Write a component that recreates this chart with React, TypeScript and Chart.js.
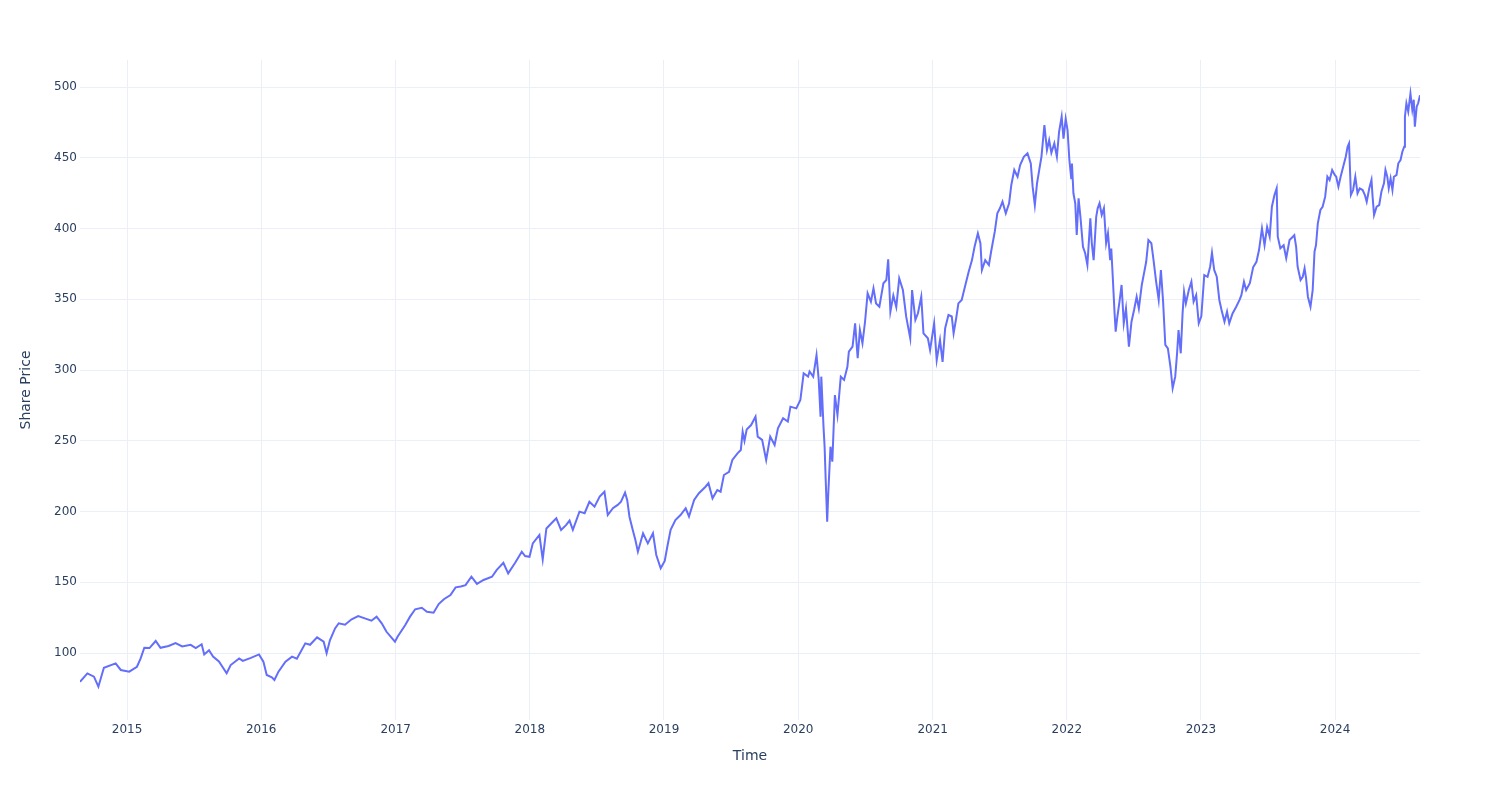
import React, { useEffect, useRef } from "react";
import { Chart, registerables } from "chart.js";

Chart.register(...registerables);

const dates: string[] = [
  "2014-08-26","2014-09-15","2014-10-03","2014-10-15","2014-10-30","2014-12-01","2014-12-15",
  "2015-01-07","2015-01-28","2015-02-07","2015-02-17","2015-03-03","2015-03-20","2015-04-02","2015-04-24",
  "2015-05-13","2015-05-31","2015-06-23","2015-07-07","2015-07-23","2015-07-30","2015-08-12","2015-08-23",
  "2015-09-08","2015-09-29","2015-10-10","2015-11-02","2015-11-12","2015-12-04","2015-12-26",
  "2016-01-07","2016-01-16","2016-01-30","2016-02-06","2016-02-17","2016-03-07","2016-03-25","2016-04-07",
  "2016-04-30","2016-05-13","2016-06-01","2016-06-19","2016-06-27","2016-07-06","2016-07-20","2016-07-30",
  "2016-08-16","2016-09-03","2016-09-21","2016-10-09","2016-10-27","2016-11-10","2016-11-24","2016-12-07","2016-12-30",
  "2017-01-06","2017-01-27","2017-02-09","2017-02-23","2017-03-13","2017-03-27","2017-04-14","2017-04-28",
  "2017-05-12","2017-05-30","2017-06-13","2017-06-27","2017-07-10","2017-07-26","2017-08-10","2017-08-28",
  "2017-09-20","2017-10-03","2017-10-21","2017-11-03","2017-11-22","2017-12-10","2017-12-19","2017-12-31",
  "2018-01-09","2018-01-27","2018-02-05","2018-02-15","2018-02-28","2018-03-14","2018-03-27","2018-04-10",
  "2018-04-19","2018-04-28","2018-05-16","2018-05-30","2018-06-12","2018-06-26","2018-07-10","2018-07-23",
  "2018-08-01","2018-08-15","2018-08-28","2018-09-06","2018-09-17","2018-09-23","2018-09-29","2018-10-08",
  "2018-10-15","2018-10-22","2018-11-05","2018-11-18","2018-12-02","2018-12-11","2018-12-23",
  "2019-01-03","2019-01-10","2019-01-19","2019-02-01","2019-02-15","2019-03-01","2019-03-10","2019-03-24",
  "2019-04-06","2019-04-24","2019-05-02","2019-05-13","2019-05-26","2019-06-04","2019-06-13","2019-06-27",
  "2019-07-06","2019-07-20","2019-07-29","2019-08-03","2019-08-08","2019-08-14","2019-08-26","2019-09-07",
  "2019-09-13","2019-09-25","2019-10-06","2019-10-17","2019-10-29","2019-11-07","2019-11-21","2019-12-04",
  "2019-12-11","2019-12-27",
  "2020-01-07","2020-01-16","2020-01-28","2020-02-01","2020-02-11","2020-02-20","2020-02-26","2020-03-02",
  "2020-03-04","2020-03-10","2020-03-13","2020-03-16","2020-03-20","2020-03-23","2020-03-29","2020-04-03",
  "2020-04-10","2020-04-17","2020-04-26","2020-05-05","2020-05-14","2020-05-18","2020-05-28","2020-06-04",
  "2020-06-11","2020-06-17","2020-06-24","2020-07-01","2020-07-08","2020-07-17","2020-07-24","2020-07-31",
  "2020-08-09","2020-08-20","2020-08-28","2020-09-02","2020-09-08","2020-09-16","2020-09-24","2020-10-02",
  "2020-10-12","2020-10-21","2020-11-01","2020-11-06","2020-11-15","2020-11-22","2020-12-01","2020-12-07",
  "2020-12-19","2020-12-25",
  "2021-01-05","2021-01-12","2021-01-21","2021-01-28","2021-02-04","2021-02-13","2021-02-22","2021-02-27",
  "2021-03-06","2021-03-12","2021-03-21","2021-03-31","2021-04-09","2021-04-18","2021-04-25","2021-05-04",
  "2021-05-11","2021-05-15","2021-05-24","2021-06-03","2021-06-09","2021-06-19","2021-06-26","2021-07-03",
  "2021-07-10","2021-07-19","2021-07-28","2021-08-03","2021-08-11","2021-08-20","2021-08-27","2021-09-06",
  "2021-09-16","2021-09-25","2021-09-30","2021-10-06","2021-10-12","2021-10-18","2021-10-24","2021-11-01",
  "2021-11-08","2021-11-14","2021-11-20","2021-11-28","2021-12-05","2021-12-11","2021-12-18","2021-12-23","2021-12-29",
  "2022-01-03","2022-01-08","2022-01-13","2022-01-15","2022-01-19","2022-01-24","2022-01-28","2022-02-02",
  "2022-02-07","2022-02-14","2022-02-20","2022-02-26","2022-03-06","2022-03-10","2022-03-15","2022-03-22",
  "2022-03-26","2022-03-31","2022-04-06","2022-04-12","2022-04-18","2022-04-23","2022-04-29","2022-05-02",
  "2022-05-06","2022-05-11","2022-05-14","2022-05-18","2022-05-25","2022-05-30","2022-06-05","2022-06-11",
  "2022-06-19","2022-06-26","2022-07-03","2022-07-10","2022-07-16","2022-07-24","2022-07-30","2022-08-05",
  "2022-08-11","2022-08-19","2022-08-25","2022-09-01","2022-09-08","2022-09-14","2022-09-20","2022-09-26",
  "2022-10-03","2022-10-10","2022-10-16","2022-10-23","2022-10-28","2022-11-01","2022-11-07","2022-11-12",
  "2022-11-16","2022-11-21","2022-11-29","2022-12-06","2022-12-12","2022-12-19","2022-12-26",
  "2023-01-02","2023-01-10","2023-01-19","2023-01-26","2023-01-31","2023-02-06","2023-02-13","2023-02-20",
  "2023-02-26","2023-03-06","2023-03-13","2023-03-19","2023-03-28","2023-04-07","2023-04-16","2023-04-21",
  "2023-04-28","2023-05-04","2023-05-14","2023-05-23","2023-06-01","2023-06-08","2023-06-16","2023-06-23",
  "2023-06-30","2023-07-07","2023-07-13","2023-07-20","2023-07-26","2023-07-29","2023-08-05","2023-08-14",
  "2023-08-21","2023-08-30","2023-09-08","2023-09-12","2023-09-17","2023-09-21","2023-09-29","2023-10-05",
  "2023-10-10","2023-10-14","2023-10-19","2023-10-26","2023-11-01","2023-11-06","2023-11-10","2023-11-15",
  "2023-11-22","2023-11-28","2023-12-05","2023-12-11","2023-12-17","2023-12-24","2023-12-31",
  "2024-01-04","2024-01-10","2024-01-16","2024-01-23","2024-01-30","2024-02-04","2024-02-08","2024-02-13",
  "2024-02-19","2024-02-25","2024-03-02","2024-03-08","2024-03-16","2024-03-22","2024-03-27","2024-04-03",
  "2024-04-09","2024-04-12","2024-04-16","2024-04-23","2024-04-30","2024-05-06","2024-05-13","2024-05-17",
  "2024-05-22","2024-05-26","2024-05-31","2024-06-05","2024-06-09","2024-06-16","2024-06-21","2024-06-27",
  "2024-07-02","2024-07-07","2024-07-09","2024-07-13","2024-07-18","2024-07-24","2024-07-29","2024-08-02",
  "2024-08-05","2024-08-10","2024-08-14","2024-08-19",
];

const prices: number[] = [
  79.7,85.6,83.3,76.2,89.6,92.7,88.0,
  86.8,90.3,96.2,103.7,103.5,108.5,103.7,105.0,
  107.0,104.6,105.8,103.5,106.2,99.0,102.0,97.5,
  94.0,85.7,91.5,96.2,94.4,96.6,99.0,
  93.9,84.5,82.8,80.9,86.8,93.9,97.4,96.0,
  106.8,105.8,111.1,108.0,99.8,109.0,117.4,121.0,
  120.0,123.8,126.1,124.5,122.8,125.7,121.0,115.0,108.0,
  111.5,119.8,125.7,130.9,132.0,129.2,128.5,134.6,
  138.0,141.0,146.4,147.0,148.0,153.9,148.8,151.6,
  153.9,158.7,163.8,156.3,163.8,171.6,168.5,168.0,
  177.5,183.4,166.2,188.0,191.5,195.2,187.0,190.5,
  193.6,187.0,199.9,198.8,206.9,203.4,210.5,214.0,
  197.5,202.3,204.7,206.9,213.3,208.0,196.3,187.0,
  180.0,171.6,184.6,177.5,184.6,169.3,159.9,
  165.0,175.1,187.0,194.0,197.5,202.3,196.5,208.1,
  212.9,217.5,220.0,209.3,215.2,214.0,225.8,228.0,
  236.4,241.1,243.5,256.4,250.0,258.0,261.1,267.0,
  252.9,250.6,236.4,252.9,247.0,258.8,265.9,263.6,
  274.1,272.9,
  278.8,297.7,295.3,299.0,295.3,310.6,293.0,267.0,
  295.3,260.0,245.8,222.3,192.8,212.9,245.8,235.2,
  282.3,268.2,295.3,293.0,302.3,313.0,316.5,333.0,
  308.3,328.3,318.9,334.1,354.2,348.3,357.7,347.0,
  344.7,361.3,363.6,378.2,341.2,352.7,344.5,364.8,
  356.5,337.7,322.4,356.5,335.4,340.1,351.8,325.9,
  322.4,314.1,
  333.0,307.0,321.2,305.8,329.5,338.9,337.8,325.9,
  336.6,347.1,349.5,360.1,369.5,377.7,387.1,396.6,
  389.4,370.7,377.7,374.2,383.6,397.8,410.7,414.3,
  419.0,410.7,417.8,430.8,441.4,436.6,444.9,450.7,
  453.1,446.0,429.6,416.6,432.0,441.4,450.7,473.1,
  455.5,462.5,453.5,460.2,450.7,468.4,479.0,463.5,477.5,
  469.6,448.4,435.5,446.0,424.9,417.8,395.4,421.3,
  408.4,387.1,382.5,374.2,407.2,389.6,377.7,408.3,
  414.3,417.8,409.6,414.3,389.6,396.6,377.7,385.9,
  365.9,340.0,327.1,336.5,349.5,360.1,333.0,343.5,
  316.5,334.1,342.4,351.8,343.5,360.1,368.3,376.5,
  391.9,389.6,377.7,362.4,349.5,370.7,348.3,317.7,
  315.3,302.3,287.1,295.3,311.8,328.3,311.8,340.0,
  355.3,347.1,356.5,362.4,348.3,353.0,333.0,
  338.0,367.1,365.9,373.0,382.9,370.7,365.9,349.5,
  342.4,334.1,341.2,333.0,340.0,344.7,349.5,352.9,
  362.4,356.5,361.3,372.6,376.5,384.8,400.1,388.2,
  401.0,394.2,415.4,423.7,428.4,394.2,386.0,388.2,
  379.0,391.9,394.2,395.3,387.1,373.0,363.6,365.9,
  371.9,364.8,351.8,344.7,356.5,383.6,388.2,403.7,
  413.1,415.4,422.5,436.6,434.2,441.4,437.9,
  436.6,429.6,436.6,443.7,450.7,457.8,460.2,423.7,
  427.2,436.6,424.9,428.4,427.2,423.7,418.9,428.4,
  434.3,422.5,409.5,415.4,416.6,426.0,432.0,441.4,
  436.6,428.4,435.4,427.2,436.6,437.8,446.1,448.4,
  454.3,457.8,479.0,488.5,482.6,495.4,484.0,491.0,
  472.0,486.2,488.5,494.2,
];

const tickYears: number[] = [2015, 2016, 2017, 2018, 2019, 2020, 2021, 2022, 2023, 2024];
const yTicks: number[] = [100, 150, 200, 250, 300, 350, 400, 450, 500];

const FONT = "'DejaVu Sans', 'Open Sans', Verdana, Arial, sans-serif";
const TEXT = "#2a3f5f";
const GRID = "#EBF0F8";

export default function App() {
  const ref = useRef<HTMLCanvasElement | null>(null);

  useEffect(() => {
    if (!ref.current) return;
    const points = dates.map((d, i) => ({ x: Date.parse(d), y: prices[i] }));
    const chart = new Chart(ref.current, {
      type: "line",
      data: {
        datasets: [
          {
            data: points,
            borderColor: "#636efa",
            borderWidth: 2,
            pointRadius: 0,
            tension: 0,
            fill: false,
          },
        ],
      },
      options: {
        responsive: false,
        animation: false,
        layout: { padding: { top: 60, right: 80, left: 0, bottom: 0 } },
        plugins: { legend: { display: false }, tooltip: { enabled: false } },
        scales: {
          x: {
            type: "linear",
            min: Date.parse(dates[0]),
            max: Date.parse(dates[dates.length - 1]),
            afterBuildTicks: (s: any) => {
              s.ticks = tickYears.map((y) => ({ value: Date.UTC(y, 0, 1) }));
            },
            afterFit: (s: any) => {
              s.height = 80;
            },
            grid: { color: GRID, lineWidth: 1, drawTicks: false },
            border: { display: false },
            ticks: {
              autoSkip: false,
              maxRotation: 0,
              padding: 3,
              color: TEXT,
              font: { family: FONT, size: 12 },
              callback: (v: any) => String(new Date(v).getUTCFullYear()),
            },
            title: {
              display: true,
              text: "Time",
              color: TEXT,
              font: { family: FONT, size: 14 },
              padding: { top: 0, bottom: 35 },
            },
          },
          y: {
            type: "linear",
            min: 52.65,
            max: 519.1,
            afterBuildTicks: (s: any) => {
              s.ticks = yTicks.map((v) => ({ value: v }));
            },
            afterFit: (s: any) => {
              s.width = 80;
            },
            grid: { color: GRID, lineWidth: 1, drawTicks: false },
            border: { display: false },
            ticks: {
              autoSkip: false,
              padding: 3,
              color: TEXT,
              font: { family: FONT, size: 12 },
              callback: (v: any) => String(v),
            },
            title: {
              display: true,
              text: "Share Price",
              color: TEXT,
              font: { family: FONT, size: 14 },
              padding: { top: 18, bottom: 0 },
            },
          },
        },
      },
    });
    return () => chart.destroy();
  }, []);

  return (
    <div style={{ position: "fixed", left: 0, top: 0, width: 1500, height: 800, background: "#fff" }}>
      <canvas ref={ref} width={1500} height={800} style={{ width: 1500, height: 800, display: "block" }} />
    </div>
  );
}
